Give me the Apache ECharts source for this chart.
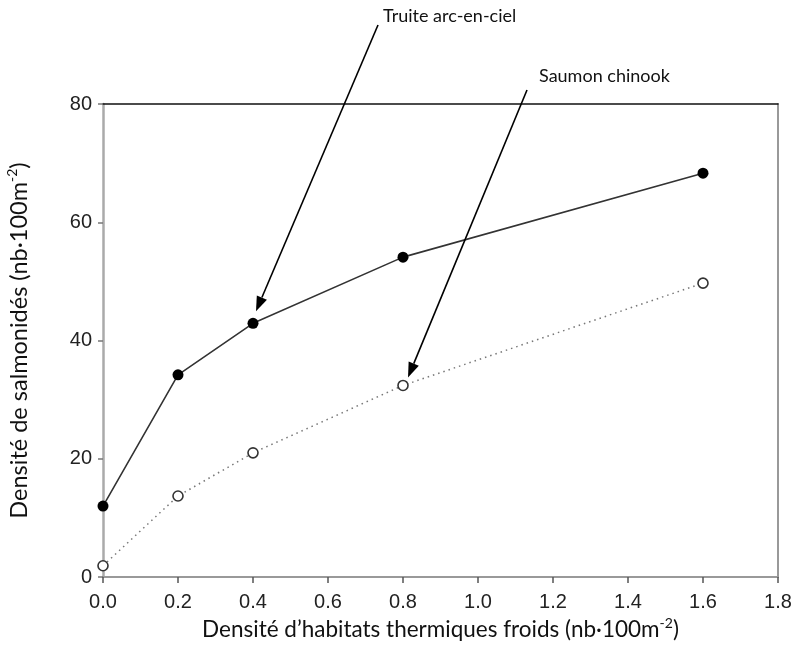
<!DOCTYPE html>
<html><head><meta charset="utf-8">
<script src="https://cdn.jsdelivr.net/npm/echarts@6/dist/echarts.min.js"></script>
<style>html,body{margin:0;padding:0;background:#fff}#c{width:808px;height:665px}</style>
</head><body><div id="c"></div>
<script>
const xValues = [0.0, 0.2, 0.4, 0.8, 1.6];
const truiteValues = [12.0, 34.2, 42.9, 54.1, 68.3];
const chinookValues = [1.9, 13.7, 21.0, 32.4, 49.7];
const seriesNames = ['Truite arc-en-ciel', 'Saumon chinook'];
const xTicks = [0, 0.2, 0.4, 0.6, 0.8, 1.0, 1.2, 1.4, 1.6, 1.8];
const yTicks = [0, 20, 40, 60, 80];

const chart = echarts.init(document.getElementById('c'), null, {renderer: 'canvas'});
const tickFont = 'Liberation Sans, Arial, sans-serif';
const titleFont = 'Lato, sans-serif';
function supRich(size) {
  return {
    n: {fontFamily: titleFont, fontSize: size, color: '#111', lineHeight: size + 4},
    s: {fontFamily: titleFont, fontSize: Math.round(size * 0.6), color: '#111', lineHeight: size + 4, verticalAlign: 'top', padding: [0, 0, Math.round(size * 0.45), 0]}
  };
}
chart.setOption({
  animation: false,
  grid: {left: 103, right: 30, top: 104, bottom: 88, containLabel: false, outerBoundsMode: 'none'},
  xAxis: [{
    type: 'value', min: xTicks[0], max: xTicks[xTicks.length - 1], interval: 0.2,
    axisLine: {show: true, lineStyle: {color: '#999', width: 2}},
    axisTick: {show: true, length: 6, lineStyle: {color: '#555', width: 1.5}},
    axisLabel: {fontFamily: tickFont, fontSize: 20, color: '#222', margin: 15, formatter: v => v.toFixed(1)},
    splitLine: {show: false},
    name: '{n|Densité d’habitats thermiques froids (nb·100m}{s|-2}{n|)}',
    nameLocation: 'middle', nameGap: 32,
    nameTextStyle: {rich: supRich(22.5)}
  }, {
    type: 'value', position: 'top', min: 0, max: 1.8,
    axisLine: {show: true, onZero: false, lineStyle: {color: '#111', width: 1.5}},
    axisTick: {show: false}, axisLabel: {show: false}, splitLine: {show: false}
  }],
  yAxis: [{
    type: 'value', min: yTicks[0], max: yTicks[yTicks.length - 1], interval: 20,
    axisLine: {show: true, lineStyle: {color: '#aaa', width: 2.5}},
    axisTick: {show: true, length: 5, lineStyle: {color: '#777', width: 1.5}},
    axisLabel: {fontFamily: tickFont, fontSize: 20, color: '#222', margin: 11},
    splitLine: {show: false},
    name: '{n|Densité de salmonidés (nb·100m}{s|-2}{n|)}',
    nameLocation: 'middle', nameGap: 70, nameRotate: 90,
    nameTextStyle: {rich: supRich(23.5)}
  }, {
    type: 'value', position: 'right', min: 0, max: 80,
    axisLine: {show: true, onZero: false, lineStyle: {color: '#999', width: 2}},
    axisTick: {show: false}, axisLabel: {show: false}, splitLine: {show: false}
  }],
  series: [{
    name: seriesNames[0], type: 'line', xAxisIndex: 0, yAxisIndex: 0,
    data: xValues.map((x, i) => [x, truiteValues[i]]),
    symbol: 'circle', symbolSize: 11,
    itemStyle: {color: '#000', borderWidth: 0},
    lineStyle: {color: '#333', width: 1.6}, z: 3
  }, {
    name: seriesNames[1], type: 'line', xAxisIndex: 0, yAxisIndex: 0,
    data: xValues.map((x, i) => [x, chinookValues[i]]),
    symbol: 'circle', symbolSize: 10, showAllSymbol: true,
    itemStyle: {color: '#fff', borderColor: '#333', borderWidth: 1.6},
    lineStyle: {color: '#777', width: 1.5, type: [1.5, 4]}, z: 3
  }]
});

function arrow(start, tip) {
  const dx = tip[0] - start[0], dy = tip[1] - start[1];
  const len = Math.hypot(dx, dy), ux = dx / len, uy = dy / len;
  const hl = 15, hw = 5.5;
  const bx = tip[0] - ux * hl, by = tip[1] - uy * hl;
  return [{
    type: 'line', shape: {x1: start[0], y1: start[1], x2: bx, y2: by},
    style: {stroke: '#000', lineWidth: 1.6}, z: 10
  }, {
    type: 'polygon',
    shape: {points: [[tip[0], tip[1]], [bx - uy * hw, by + ux * hw], [bx + uy * hw, by - ux * hw]]},
    style: {fill: '#000'}, z: 10
  }];
}
const pT = chart.convertToPixel({xAxisIndex: 0, yAxisIndex: 0}, [xValues[2], truiteValues[2]]);
const pC = chart.convertToPixel({xAxisIndex: 0, yAxisIndex: 0}, [xValues[3], chinookValues[3]]);
const g = [].concat(
  arrow([378, 25], [pT[0] + 3, pT[1] - 12]),
  arrow([527, 90], [pC[0] + 5, pC[1] - 8]),
  [{type: 'text', left: 383, top: 7, style: {text: seriesNames[0], font: '18px Lato, sans-serif', fill: '#111'}, z: 10},
   {type: 'text', left: 539, top: 67, style: {text: seriesNames[1], font: '18px Lato, sans-serif', fill: '#111'}, z: 10}]
);
chart.setOption({graphic: g});
</script></body></html>
